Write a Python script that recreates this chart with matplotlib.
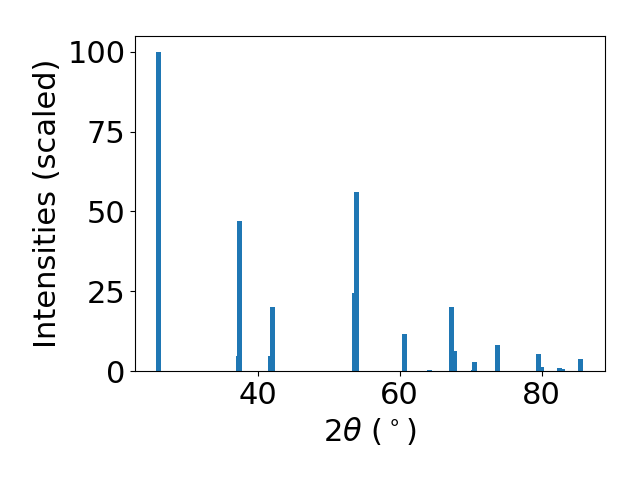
import numpy as np
import matplotlib
matplotlib.use("Agg")
import matplotlib.pyplot as plt

# peak positions (2theta, deg) and scaled intensities
two_theta = [26.10, 37.26, 37.40, 41.87, 42.05, 53.68, 53.90, 60.76, 64.16,
             67.30, 67.70, 70.35, 70.52, 73.80, 79.60, 79.95, 82.55, 82.95, 85.55]
intensity = [100.0, 4.8, 47.0, 4.8, 20.0, 24.5, 56.0, 11.6, 0.4,
             20.1, 6.3, 0.3, 2.8, 8.2, 5.3, 1.3, 1.0, 0.7, 3.8]
y_ticks = [0, 25, 50, 75, 100]

plt.rcParams["font.size"] = 22

fig = plt.figure(figsize=(6.4, 4.8))
ax = fig.add_subplot(111)
plt.subplots_adjust(left=0.211, right=0.945, bottom=0.227, top=0.925)

ax.bar(two_theta, intensity, width=0.7, color="tab:blue")

ax.set_yticks(y_ticks)
ax.set_xlabel(r"$2\theta$ ($^\circ$)")
ax.set_ylabel("Intensities (scaled)")

plt.savefig("out.png", dpi=100)
